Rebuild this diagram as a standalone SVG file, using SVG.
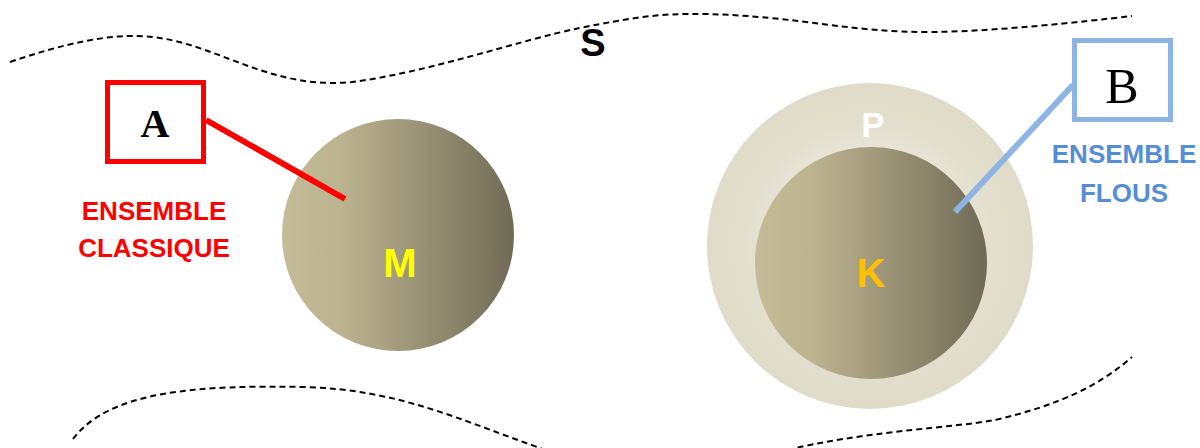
<svg xmlns="http://www.w3.org/2000/svg" width="1200" height="448" viewBox="0 0 1200 448">
<style>
.bnd{fill:none;stroke:#000;stroke-width:2;stroke-dasharray:6 4}
.lbl{font-family:"Liberation Sans",Arial,sans-serif;font-weight:bold;text-anchor:middle}
.ser{font-family:"Liberation Serif","Times New Roman",serif;text-anchor:middle}
</style>
<defs>
<linearGradient id="gDisk" x1="0" y1="0" x2="1" y2="0">
<stop offset="0" stop-color="#C4BC96"/>
<stop offset="0.25" stop-color="#BCB38F"/>
<stop offset="1" stop-color="#706B56"/>
</linearGradient>
<radialGradient id="gHalo" cx="0.5" cy="0.5" r="0.5">
<stop offset="0" stop-color="#FFFFFF"/>
<stop offset="0.55" stop-color="#EAE7DB"/>
<stop offset="0.75" stop-color="#E2DFCE"/>
<stop offset="1" stop-color="#DFDBC8"/>
</radialGradient>
</defs>
<rect width="1200" height="448" fill="#fff"/>
<g id="boundary-S">
<path class="bnd" d="M10 62 C60 45 110 32 153 37 C220 45 270 90 352 82 C430 72 520 40 580 28 C630 18 660 13 704 14 C800 16 850 33 933 32 C1000 31 1080 22 1132 16"/>
<path class="bnd" d="M73 439 C110 390 200 385 306 387 C400 390 460 420 540 448 C600 470 720 470 800 447 C880 430 950 428 995 420 C1060 405 1100 385 1132 357"/>
<text class="lbl" x="593" y="56" font-size="38" fill="#000">S</text>
</g>
<g id="node-M">
<circle cx="398" cy="235" r="116" fill="url(#gDisk)"/>
<text class="lbl" x="400" y="277" font-size="40" fill="#FFFF00">M</text>
</g>
<g id="node-P">
<circle cx="870" cy="246" r="163" fill="url(#gHalo)"/>
<text class="lbl" x="873" y="137" font-size="35" fill="#FFFFFF">P</text>
</g>
<g id="node-K">
<circle cx="871" cy="263" r="116" fill="url(#gDisk)"/>
<text class="lbl" x="871" y="287" font-size="40" fill="#FFC000">K</text>
</g>
<g id="connectors">
<line x1="206" y1="120" x2="345" y2="199" stroke="#FF0000" stroke-width="6"/>
<line x1="1073" y1="85" x2="955" y2="212" stroke="#8DB4E2" stroke-width="6"/>
</g>
<g id="node-A">
<rect x="107.5" y="82.5" width="96" height="79" fill="#fff" stroke="#FF0000" stroke-width="5"/>
<text class="ser" x="155" y="137" font-size="40" font-weight="bold" fill="#000">A</text>
<text class="lbl" x="154" y="220" font-size="26" fill="#FF0000">ENSEMBLE</text>
<text class="lbl" x="154" y="257" font-size="26" fill="#FF0000">CLASSIQUE</text>
</g>
<g id="node-B">
<rect x="1074.5" y="40.5" width="96" height="79" fill="#fff" stroke="#8DB4E2" stroke-width="5"/>
<text class="ser" x="1122" y="103" font-size="50" fill="#000">B</text>
<text class="lbl" x="1124" y="163" font-size="26" fill="#558ED5">ENSEMBLE</text>
<text class="lbl" x="1124" y="202" font-size="26" fill="#558ED5">FLOUS</text>
</g>
</svg>
